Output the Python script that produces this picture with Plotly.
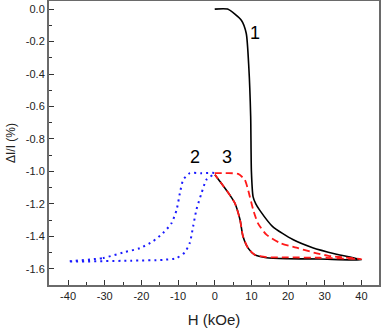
import plotly.graph_objects as go

# curve 1 (black): virgin branch going up in field, then return branch
h1 = [0, 3.5, 7.3, 8.6, 9.3, 9.8, 10.0, 10.45, 11.2, 12.3, 15.8, 21.3, 26.7, 33.2, 40,
      28.6, 20, 14.1, 10.9, 9.1, 7.7, 6.9, 5.5, 4.1, 1.8, 0.05]
y1 = [0, 0, -0.07, -0.15, -0.36, -0.66, -1.0, -1.155, -1.2, -1.24, -1.34, -1.42, -1.47, -1.51, -1.545,
      -1.54, -1.538, -1.532, -1.514, -1.473, -1.40, -1.298, -1.196, -1.145, -1.073, -1.02]

# curve 2 (blue dotted): negative field loop
h2 = [-40, -30.5, -25, -20.4, -16.8, -14.1, -11.8, -10.4, -9.5, -8.6, -6.8, -3.5, 0,
      -2.3, -3.6, -5.0, -5.9, -6.8, -8.2, -10.4, -14, -22.9, -40]
y2 = [-1.555, -1.534, -1.50, -1.473, -1.43, -1.38, -1.32, -1.237, -1.134, -1.052, -1.011, -1.011, -1.011,
      -1.052, -1.134, -1.237, -1.34, -1.44, -1.50, -1.534, -1.545, -1.55, -1.555]

# curve 3 (red dashed): positive field loop
h3 = [0, 3.0, 6.4, 8.2, 9.1, 10.5, 11.8, 14.1, 17.7, 22.3, 27, 31, 40,
      28.6, 20, 14.1, 10.9, 9.1, 7.7, 6.9, 5.5, 4.1, 1.8, 0.05]
y3 = [-1.011, -1.011, -1.015, -1.052, -1.114, -1.237, -1.32, -1.39, -1.44, -1.47, -1.50, -1.52, -1.54,
      -1.532, -1.53, -1.528, -1.514, -1.473, -1.40, -1.298, -1.196, -1.145, -1.073, -1.02]

labels = ["1", "2", "3"]
label_h = [11.0, -5.3, 3.4]
label_y = [-0.15, -0.91, -0.91]

xticks = [-40, -30, -20, -10, 0, 10, 20, 30, 40]
yticks = [0.0, -0.2, -0.4, -0.6, -0.8, -1.0, -1.2, -1.4, -1.6]
yticktext = ["0.0", "-0.2", "-0.4", "-0.6", "-0.8", "-1.0", "-1.2", "-1.4", "-1.6"]

fig = go.Figure()
fig.add_trace(go.Scatter(x=h2, y=y2, mode="lines", line=dict(color="#1a1aff", width=2, dash="2px,4px", shape="spline", smoothing=0.6)))
fig.add_trace(go.Scatter(x=h1, y=y1, mode="lines", line=dict(color="black", width=1.6, shape="spline", smoothing=0.6)))
fig.add_trace(go.Scatter(x=h3, y=y3, mode="lines", line=dict(color="#ff1a1a", width=1.8, dash="7px,4px", shape="spline", smoothing=0.6)))

for t, hx, hy in zip(labels, label_h, label_y):
    fig.add_annotation(x=hx, y=hy, text=t, showarrow=False, font=dict(size=18, color="black"))

axis_style = dict(showgrid=False, zeroline=False, showline=True, mirror=True, automargin=False,
                  linecolor="#6a6a6a", linewidth=2, ticks="inside", ticklen=5,
                  tickcolor="#333", tickfont=dict(size=11, color="#222"))

fig.update_xaxes(range=[-45.2, 44.8], tickvals=xticks, ticktext=[str(v) for v in xticks],
                 minor=dict(dtick=5, ticks="inside", ticklen=3, tickcolor="#333"),
                 title=dict(text="H (kOe)", font=dict(size=15, color="#222"), standoff=13),
                 **axis_style)
fig.update_yaxes(range=[-1.7, 0.05], tickvals=yticks, ticktext=yticktext,
                 minor=dict(dtick=0.1, ticks="inside", ticklen=3, tickcolor="#333"),
                 title=dict(text="ΔI/I (%)", font=dict(size=12, color="#222"), standoff=8),
                 **axis_style)

fig.update_layout(width=382, height=329, margin=dict(l=49, r=3, t=1, b=44),
                  paper_bgcolor="white", plot_bgcolor="white", showlegend=False,
                  font=dict(family="Liberation Sans, Arial, sans-serif"))

# the page body has a default 8px margin; remove it so the figure sits at the window corner
fig.write_html("out.html", config={"displayModeBar": False},
               post_script="document.body.style.margin='0';")
